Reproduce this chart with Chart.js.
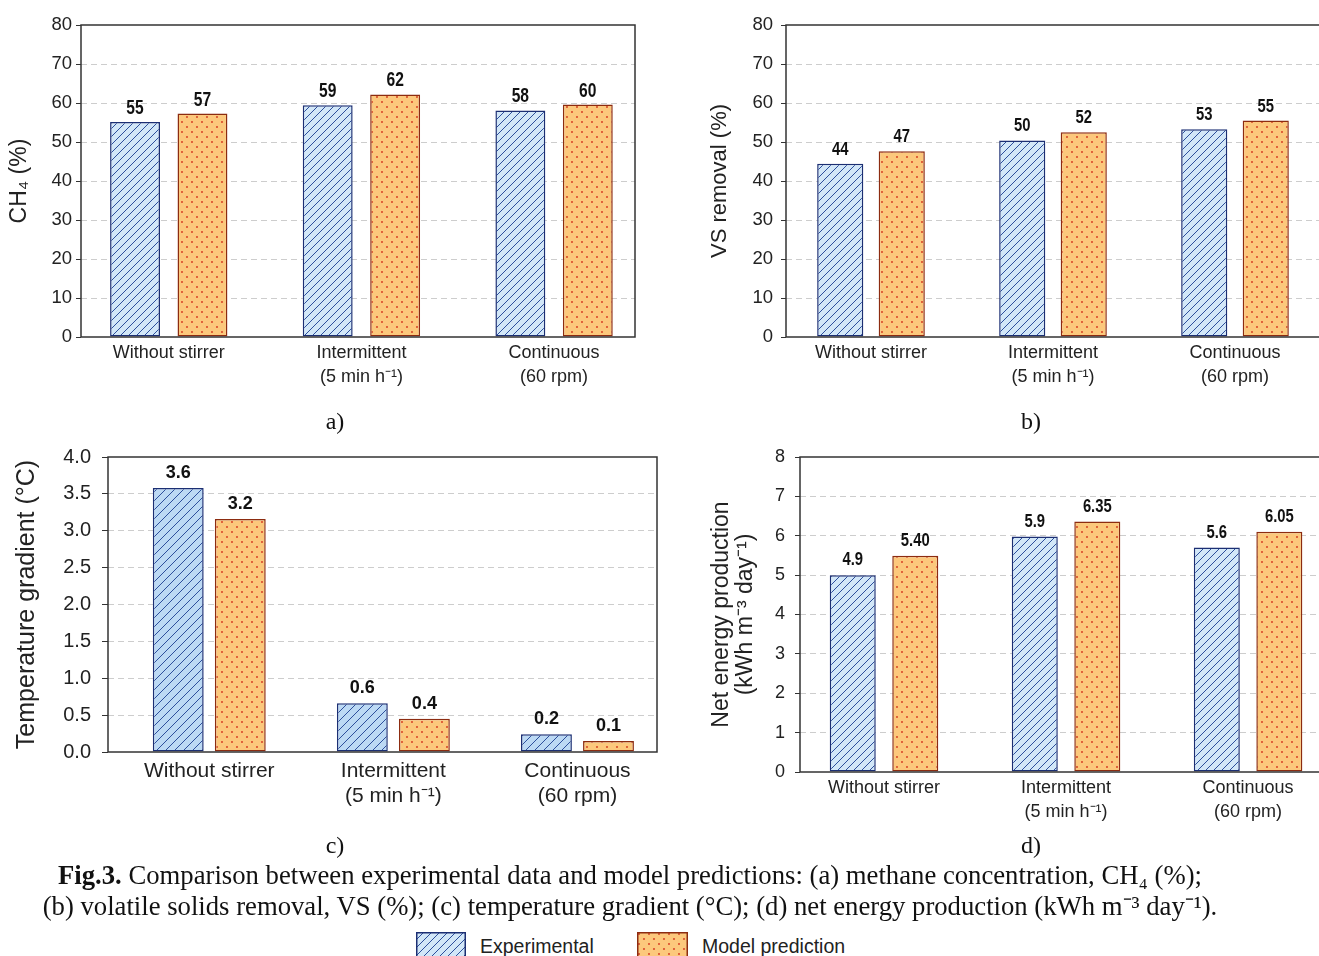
<!DOCTYPE html>
<html>
<head>
<meta charset="utf-8">
<script src="https://cdn.jsdelivr.net/npm/chart.js@4.4.0/dist/chart.umd.min.js"></script>
<style>
  body { margin: 0; background: #fff; width: 1319px; height: 956px; overflow: hidden; position: relative;
         font-family: "Liberation Sans", Arial, sans-serif; color: #222; }
  canvas.chart { position: absolute; }
  .sub { position: absolute; text-align: center; font-family: "Liberation Serif", "Times New Roman", serif; font-size: 24px; line-height: 28px; color: #111; }
  .cap { position: absolute; left: 0; width: 1260px; text-align: center; font-family: "Liberation Serif", "Times New Roman", serif; font-size: 26.7px; line-height: 31px; color: #111; white-space: nowrap; }
  .leg { position: absolute; font-size: 19.5px; line-height: 24px; color: #222; }
  canvas.sw { position: absolute; }
</style>
</head>
<body>
<canvas id="chartA" class="chart" width="660" height="400" style="left:0;top:0"></canvas>
<canvas id="chartB" class="chart" width="700" height="400" style="left:660px;top:0"></canvas>
<canvas id="chartC" class="chart" width="680" height="410" style="left:0;top:430px"></canvas>
<canvas id="chartD" class="chart" width="680" height="410" style="left:690px;top:430px"></canvas>

<div class="sub" style="left:0;width:670px;top:407px">a)</div>
<div class="sub" style="left:700px;width:662px;top:407px">b)</div>
<div class="sub" style="left:0;width:670px;top:831px">c)</div>
<div class="sub" style="left:700px;width:662px;top:831px">d)</div>

<div class="cap" style="top:860px"><b>Fig.3.</b> Comparison between experimental data and model predictions: (a) methane concentration, CH₄ (%);</div>
<div class="cap" style="top:891px">(b) volatile solids removal, VS (%); (c) temperature gradient (°C); (d) net energy production (kWh m⁻³ day⁻¹).</div>

<canvas id="swExp" class="sw" width="50" height="28" style="left:416px;top:932px"></canvas>
<div class="leg" style="left:480px;top:934px">Experimental</div>
<canvas id="swModel" class="sw" width="51" height="28" style="left:637px;top:932px"></canvas>
<div class="leg" style="left:702px;top:934px">Model prediction</div>

<script>
// categories shared by all four panels
const categories = ["Without stirrer", ["Intermittent", "(5 min h⁻¹)"], ["Continuous", "(60 rpm)"]];

// (a) methane concentration
const ch4Exp = [55.1, 59.4, 58.1];
const ch4Model = [57.3, 62.2, 59.6];
const ch4ExpLabels = ["55", "59", "58"];
const ch4ModelLabels = ["57", "62", "60"];

// (b) VS removal
const vsExp = [44.4, 50.4, 53.3];
const vsModel = [47.6, 52.5, 55.5];
const vsExpLabels = ["44", "50", "53"];
const vsModelLabels = ["47", "52", "55"];

// (c) temperature gradient
const tempExp = [3.58, 0.66, 0.24];
const tempModel = [3.16, 0.45, 0.15];
const tempExpLabels = ["3.6", "0.6", "0.2"];
const tempModelLabels = ["3.2", "0.4", "0.1"];

// (d) net energy production
const energyExp = [5.0, 5.98, 5.7];
const energyModel = [5.49, 6.36, 6.1];
const energyExpLabels = ["4.9", "5.9", "5.6"];
const energyModelLabels = ["5.40", "6.35", "6.05"];

// y axis ranges
const ch4Axis = { max: 80, step: 10 };
const vsAxis = { max: 80, step: 10 };
const tempAxis = { max: 4, step: 0.5 };
const energyAxis = { max: 8, step: 1 };

const EXP_BORDER = "#1c2f73";
const MODEL_BORDER = "#8c2c10";

function hatchTile(size, bg) {
  const c = document.createElement("canvas");
  c.width = c.height = size;
  const g = c.getContext("2d");
  g.fillStyle = bg;
  g.fillRect(0, 0, size, size);
  g.strokeStyle = "#2d4f9c";
  g.lineWidth = 1;
  g.beginPath();
  g.moveTo(0, size); g.lineTo(size, 0);
  g.moveTo(-1, 1); g.lineTo(1, -1);
  g.moveTo(size - 1, size + 1); g.lineTo(size + 1, size - 1);
  g.stroke();
  return c;
}

function dotTile(size) {
  const c = document.createElement("canvas");
  c.width = c.height = size;
  const g = c.getContext("2d");
  g.fillStyle = "#fcc87c";
  g.fillRect(0, 0, size, size);
  g.fillStyle = "#d9492a";
  [[2, 2], [2 + size / 2, 2 + size / 2]].forEach(function (p) {
    g.beginPath();
    g.arc(p[0], p[1], 1.05, 0, Math.PI * 2);
    g.fill();
  });
  return c;
}

const hatchCanvas = hatchTile(8, "#d2e7f8");
const hatchCanvasC = hatchTile(9, "#bcd9f4");
const dotCanvas = dotTile(10);

// frame around plot + value labels above bars
const valuesPlugin = {
  id: "values",
  afterDatasetsDraw(chart, args, opts) {
    const ctx = chart.ctx;
    const a = chart.chartArea;
    ctx.save();
    ctx.strokeStyle = "#333";
    ctx.lineWidth = 1.5;
    ctx.strokeRect(a.left, a.top, a.right - a.left, a.bottom - a.top);

    ctx.fillStyle = "#111";
    ctx.font = "bold " + opts.size + "px 'Liberation Sans', Arial, sans-serif";
    ctx.textAlign = "center";
    ctx.textBaseline = "alphabetic";
    opts.labels.forEach(function (list, i) {
      const meta = chart.getDatasetMeta(i);
      meta.data.forEach(function (bar, j) {
        ctx.save();
        ctx.translate(bar.x, bar.y - opts.gap);
        ctx.scale(opts.squeeze, 1);
        ctx.fillText(list[j], 0, 0);
        ctx.restore();
      });
    });
    ctx.restore();
  }
};

function toPoints(values) {
  return values.map(function (v, i) { return { x: i, y: v }; });
}

function makeChart(id, cfg) {
  const el = document.getElementById(id);
  const ctx = el.getContext("2d");
  const hatch = ctx.createPattern(cfg.hatchTile || hatchCanvas, "repeat");
  const dots = ctx.createPattern(dotCanvas, "repeat");

  return new Chart(ctx, {
    type: "bar",
    data: {
      datasets: [
        {
          label: "Experimental",
          data: toPoints(cfg.exp),
          backgroundColor: hatch,
          borderColor: EXP_BORDER,
          borderWidth: 1.5,
          borderSkipped: false,
          barPercentage: cfg.barPct,
          categoryPercentage: cfg.catPct,
        },
        {
          label: "Model prediction",
          data: toPoints(cfg.model),
          backgroundColor: dots,
          borderColor: MODEL_BORDER,
          borderWidth: 1.5,
          borderSkipped: false,
          barPercentage: cfg.barPct,
          categoryPercentage: cfg.catPct,
        },
      ],
    },
    options: {
      responsive: false,
      animation: false,
      devicePixelRatio: 1,
      layout: { padding: cfg.pad },
      plugins: {
        legend: { display: false },
        tooltip: { enabled: false },
        values: cfg.values,
      },
      scales: {
        x: {
          type: "linear",
          min: cfg.xMin,
          max: cfg.xMax,
          offset: false,
          grid: { display: false, drawTicks: false },
          border: { display: false },
          afterBuildTicks: function (scale) {
            scale.ticks = categories.map(function (c, i) { return { value: i }; });
          },
          ticks: {
            color: "#222",
            font: { family: "'Liberation Sans', Arial, sans-serif", size: cfg.xFont, lineHeight: cfg.xLH },
            padding: cfg.xPad,
            maxRotation: 0,
            autoSkip: false,
            callback: function (v) { return categories[v]; },
          },
          afterFit: function (scale) {
            scale.height = cfg.xH;
          },
        },
        y: {
          min: 0,
          max: cfg.axis.max,
          ticks: {
            stepSize: cfg.axis.step,
            color: "#222",
            font: { family: "'Liberation Sans', Arial, sans-serif", size: cfg.yFont },
            padding: cfg.yPad,
            callback: cfg.fmt,
          },
          grid: {
            color: function (c) {
              if (c.tick && (c.tick.value === 0 || c.tick.value === cfg.axis.max)) return "rgba(0,0,0,0)";
              return "#cdcdcd";
            },
            tickColor: "#333",
            tickLength: cfg.tickLen,
            lineWidth: 1,
          },
          border: { display: false, dash: [6, 4] },
          title: {
            display: true,
            text: cfg.title,
            color: "#222",
            font: { family: "'Liberation Sans', Arial, sans-serif", size: cfg.titleFont, lineHeight: cfg.titleLH },
            padding: { top: 3, bottom: 3 },
          },
          afterFit: function (scale) {
            scale.width = cfg.yW;
          },
        },
      },
    },
    plugins: [valuesPlugin],
  });
}

makeChart("chartA", {
  exp: ch4Exp, model: ch4Model, axis: ch4Axis,
  values: { labels: [ch4ExpLabels, ch4ModelLabels], size: 20, squeeze: 0.78, gap: 8 },
  pad: { top: 25, right: 25, left: 3, bottom: 0 },
  yW: 78, xH: 63, barPct: 0.74, catPct: 0.70, xMin: -0.4555, xMax: 2.42,
  xFont: 18, xLH: 1.33, xPad: 4,
  yFont: 18.5, yPad: 4, tickLen: 5,
  title: "CH₄ (%)", titleFont: 23, titleLH: 1.2,
  fmt: function (v) { return v; },
});

makeChart("chartB", {
  exp: vsExp, model: vsModel, axis: vsAxis,
  values: { labels: [vsExpLabels, vsModelLabels], size: 19, squeeze: 0.78, gap: 9 },
  pad: { top: 25, right: 28, left: 44, bottom: 0 },
  yW: 82, xH: 63, barPct: 0.75, catPct: 0.676, xMin: -0.467, xMax: 2.533,
  xFont: 18, xLH: 1.33, xPad: 4,
  yFont: 18.5, yPad: 8, tickLen: 5,
  title: "VS removal (%)", titleFont: 22, titleLH: 1.2,
  fmt: function (v) { return v; },
});

makeChart("chartC", {
  exp: tempExp, model: tempModel, axis: tempAxis,
  values: { labels: [tempExpLabels, tempModelLabels], size: 19, squeeze: 0.95, gap: 10 },
  pad: { top: 27, right: 23, left: 9, bottom: 0 },
  yW: 99, xH: 88, barPct: 0.82, catPct: 0.674, xMin: -0.55, xMax: 2.432, hatchTile: hatchCanvasC,
  xFont: 21, xLH: 1.19, xPad: 7,
  yFont: 20, yPad: 11, tickLen: 6,
  title: "Temperature gradient (°C)", titleFont: 25, titleLH: 1.2,
  fmt: function (v) { return v.toFixed(1); },
});

makeChart("chartD", {
  exp: energyExp, model: energyModel, axis: energyAxis,
  values: { labels: [energyExpLabels, energyModelLabels], size: 19, squeeze: 0.78, gap: 10 },
  pad: { top: 27, right: 24, left: 17, bottom: 0 },
  yW: 93, xH: 68, barPct: 0.736, catPct: 0.687, xMin: -0.4615, xMax: 2.538,
  xFont: 18, xLH: 1.28, xPad: 5,
  yFont: 18, yPad: 10, tickLen: 5,
  title: ["Net energy production", "(kWh m⁻³ day⁻¹)"], titleFont: 23, titleLH: 1.04,
  fmt: function (v) { return v; },
});

// legend swatches
function drawSwatch(id, tile, border) {
  const el = document.getElementById(id);
  const g = el.getContext("2d");
  g.fillStyle = g.createPattern(tile, "repeat");
  g.fillRect(0, 0, el.width, el.height);
  g.strokeStyle = border;
  g.lineWidth = 1.5;
  g.strokeRect(0.75, 0.75, el.width - 1.5, el.height + 4);
}
drawSwatch("swExp", hatchCanvas, EXP_BORDER);
drawSwatch("swModel", dotCanvas, MODEL_BORDER);
</script>
</body>
</html>
